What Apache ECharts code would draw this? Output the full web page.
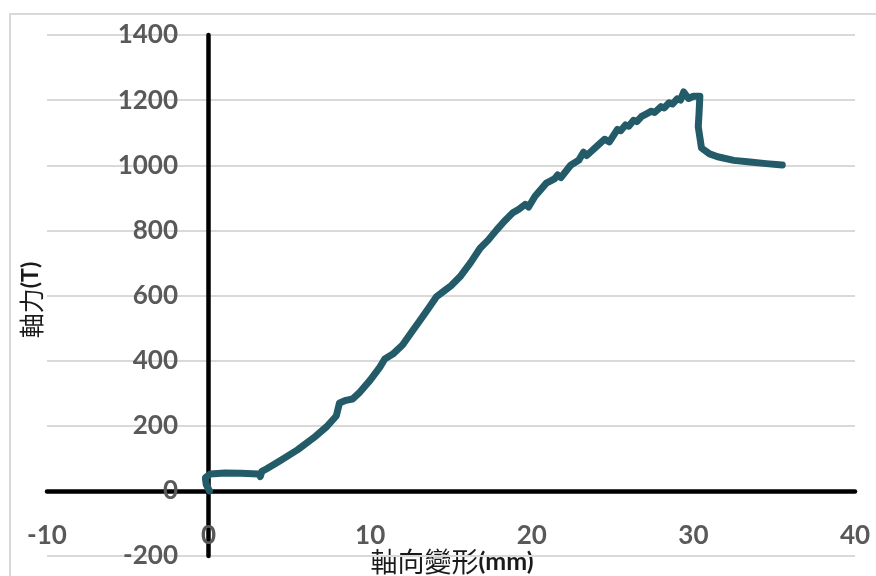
<!DOCTYPE html>
<html>
<head>
<meta charset="utf-8">
<script src="https://cdn.jsdelivr.net/npm/echarts@6/dist/echarts.min.js"></script>
<style>
  html, body { margin: 0; padding: 0; background: #ffffff; }
  #chart { width: 876px; height: 576px; }
</style>
</head>
<body>
<div id="chart"></div>
<script>
// Axial deformation (mm) and axial force (T) of the load test record
const deformation = [
  0.05, -0.15, -0.2, 0.1, 1.0, 2.0, 3.1, 3.2, 3.3, 3.6,
  4.4, 5.5, 6.5, 7.3, 7.9, 8.0, 8.1, 8.5, 8.9, 9.3,
  10.0, 10.6, 10.9, 11.4, 12.0, 12.6, 13.1, 13.6, 14.1, 14.6,
  15.0, 15.6, 16.2, 16.8, 17.3, 17.8, 18.3, 18.8, 19.2, 19.6,
  19.8, 20.2, 20.9, 21.4, 21.6, 21.8, 22.4, 22.9, 23.2, 23.4,
  24.0, 24.5, 24.8, 25.3, 25.5, 25.8, 26.0, 26.3, 26.5, 26.8,
  27.1, 27.4, 27.6, 28.0, 28.2, 28.5, 28.7, 29.0, 29.2, 29.4,
  29.7, 30.0, 30.4, 30.35, 30.3, 30.5, 31.0, 31.5, 32.5, 33.5,
  34.5, 35.5
];
const axialForce = [
  0, 20, 40, 52, 55, 54, 52, 44, 60, 68,
  92, 126, 163, 197, 230, 250, 270, 278, 282, 300,
  340, 380, 405, 420, 448, 490, 525, 560, 596, 615,
  630, 660, 700, 745, 770, 800, 828, 853, 865, 880,
  872, 905, 945, 958, 970, 962, 1000, 1015, 1040, 1030,
  1057, 1080, 1072, 1110, 1106, 1124, 1120, 1138, 1134, 1150,
  1158, 1166, 1162, 1180, 1176, 1192, 1188, 1204, 1200, 1225,
  1205, 1212, 1212, 1160, 1118, 1053, 1035, 1026, 1015, 1010,
  1005, 1001
];

// Axis ranges and tick spacing
const xRange = [-10, 40];
const xStep = 10;
const yRange = [-200, 1400];
const yStep = 200;

const xTitle = '軸向變形';
const xUnit = '(mm)';
const yTitle = '軸力';
const yUnit = '(T)';

const points = deformation.map((d, i) => [d, axialForce[i]]);

const tickFont = {
  fontFamily: 'Lato, "Open Sans", sans-serif',
  fontWeight: 'bold',
  fontSize: 26,
  color: '#595959',
  formatter: (v) => String(v)
};

const chart = echarts.init(document.getElementById('chart'), null, { renderer: 'canvas' });

chart.setOption({
  animation: false,
  backgroundColor: '#ffffff',
  grid: {
    left: 47, right: 21, top: 35, bottom: 20,
    containLabel: false,
    outerBoundsMode: 'none'
  },
  xAxis: {
    type: 'value',
    min: xRange[0],
    max: xRange[1],
    interval: xStep,
    axisLine: { show: true, onZero: true, lineStyle: { color: '#000000', width: 4.5 } },
    axisTick: { show: false },
    splitLine: { show: false },
    // labels sit between the zero line and the bottom gridline
    axisLabel: Object.assign({ margin: -33 }, tickFont)
  },
  yAxis: {
    type: 'value',
    min: yRange[0],
    max: yRange[1],
    interval: yStep,
    axisLine: { show: true, onZero: true, lineStyle: { color: '#000000', width: 4.5 } },
    axisTick: { show: false },
    splitLine: { show: true, lineStyle: { color: '#d9d9d9', width: 2 } },
    // labels end just left of the vertical zero line
    axisLabel: Object.assign({ margin: -131 }, tickFont)
  },
  series: [{
    type: 'line',
    data: points,
    showSymbol: false,
    smooth: false,
    z: 5,
    lineStyle: { color: '#235b69', width: 7, cap: 'round', join: 'round' }
  }],
  graphic: [
    {
      type: 'rect',
      silent: true,
      z: -10,
      shape: { x: 10, y: 14, width: 900, height: 700 },
      style: { fill: 'none', stroke: '#d9d9d9', lineWidth: 2 }
    },
    {
      type: 'text',
      x: 452,
      y: 562,
      style: {
        text: '{c|' + xTitle + '}{u|' + xUnit + '}',
        align: 'center',
        verticalAlign: 'middle',
        rich: {
          c: { fontFamily: '"Noto Sans CJK TC", sans-serif', fontSize: 27, fill: '#1a1a1a' },
          u: { fontFamily: 'Lato, sans-serif', fontWeight: 'bold', fontSize: 25, fill: '#1a1a1a' }
        }
      }
    },
    {
      type: 'text',
      x: 31,
      y: 300,
      rotation: Math.PI / 2,
      style: {
        text: '{c|' + yTitle + '}{u|' + yUnit + '}',
        align: 'center',
        verticalAlign: 'middle',
        rich: {
          c: { fontFamily: '"Noto Sans CJK TC", sans-serif', fontSize: 25, fill: '#1a1a1a' },
          u: { fontFamily: 'Lato, sans-serif', fontWeight: 'bold', fontSize: 23, fill: '#1a1a1a' }
        }
      }
    }
  ]
});
</script>
</body>
</html>
